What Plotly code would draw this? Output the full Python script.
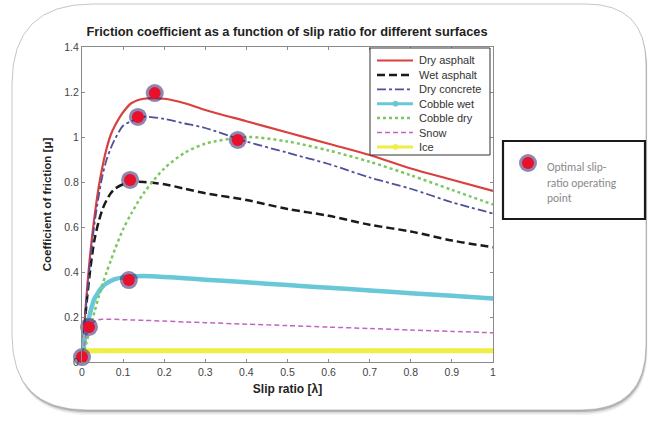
import plotly.graph_objects as go

slip = [0, 0.01, 0.02, 0.03, 0.04, 0.05, 0.06, 0.07, 0.08, 0.1, 0.12, 0.15, 0.2, 0.25, 0.3,
        0.4, 0.5, 0.6, 0.7, 0.8, 0.9, 1.0]

dry_asphalt = [0, 0.27, 0.48, 0.64, 0.77, 0.87, 0.95, 1.01, 1.05, 1.11, 1.15, 1.17, 1.17, 1.15, 1.12,
               1.07, 1.02, 0.97, 0.92, 0.86, 0.81, 0.76]
wet_asphalt = [0, 0.24, 0.41, 0.54, 0.62, 0.68, 0.72, 0.75, 0.77, 0.79, 0.80, 0.80, 0.79, 0.77, 0.75,
               0.72, 0.68, 0.65, 0.61, 0.58, 0.54, 0.51]
dry_concrete = [0, 0.25, 0.45, 0.61, 0.73, 0.83, 0.90, 0.95, 0.99, 1.05, 1.07, 1.09, 1.08, 1.06, 1.04,
                0.98, 0.93, 0.88, 0.82, 0.77, 0.71, 0.66]
cobble_wet = [0, 0.14, 0.22, 0.28, 0.31, 0.335, 0.35, 0.36, 0.368, 0.376, 0.38, 0.382, 0.378, 0.372, 0.366,
              0.354, 0.342, 0.330, 0.318, 0.306, 0.294, 0.282]
cobble_dry = [0, 0.08, 0.15, 0.22, 0.285, 0.345, 0.40, 0.45, 0.50, 0.59, 0.66, 0.75, 0.86, 0.93, 0.97,
              1.0, 0.98, 0.94, 0.89, 0.83, 0.765, 0.70]
snow = [0, 0.12, 0.165, 0.18, 0.188, 0.19, 0.19, 0.19, 0.19, 0.188, 0.187, 0.185, 0.182, 0.178, 0.175,
        0.168, 0.162, 0.155, 0.149, 0.142, 0.136, 0.13]
ice = [0, 0.048, 0.05, 0.05, 0.05, 0.05, 0.05, 0.05, 0.05, 0.05, 0.05, 0.05, 0.05, 0.05, 0.05,
       0.05, 0.05, 0.05, 0.05, 0.05, 0.05, 0.05]

opt_x = [0.0, 0.017, 0.114, 0.117, 0.136, 0.177, 0.379]
opt_y = [0.022, 0.156, 0.364, 0.809, 1.089, 1.195, 0.987]

x_ticks = [0, 0.1, 0.2, 0.3, 0.4, 0.5, 0.6, 0.7, 0.8, 0.9, 1]
x_tick_text = ["0", "0.1", "0.2", "0.3", "0.4", "0.5", "0.6", "0.7", "0.8", "0.9", "1"]
y_ticks = [0, 0.2, 0.4, 0.6, 0.8, 1.0, 1.2, 1.4]
y_tick_text = ["0", "0.2", "0.4", "0.6", "0.8", "1", "1.2", "1.4"]

series_names = ["Dry asphalt", "Wet asphalt", "Dry concrete", "Cobble wet", "Cobble dry", "Snow", "Ice"]
series_values = [dry_asphalt, wet_asphalt, dry_concrete, cobble_wet, cobble_dry, snow, ice]
series_colors = ["#d9403e", "#1a1a1a", "#50509a", "#68c8d8", "#7cc860", "#c065c0", "#eeee44"]
series_dash = ["solid", "8px,4px", "dashdot", "solid", "dot", "5px,3px", "solid"]
series_width = [2.2, 2.5, 1.8, 4.5, 2.5, 1.5, 5]
series_markers = [False, False, False, True, False, False, True]

FONT = "Liberation Sans, Arial, sans-serif"
GLOW = "rgba(55,35,110,0.55)"
RED = "#e8102a"

fig = go.Figure()
for name, vals, col, dash, w, mk in zip(series_names, series_values, series_colors,
                                        series_dash, series_width, series_markers):
    fig.add_trace(go.Scatter(
        x=slip, y=vals, name=name, showlegend=False,
        mode="lines+markers" if mk else "lines",
        line=dict(color=col, dash=dash, width=w, shape="spline", smoothing=0.8),
        marker=dict(size=4, color=col) if mk else None,
    ))

# optimal points: glow + red core
fig.add_trace(go.Scatter(
    x=opt_x, y=opt_y, mode="markers", showlegend=False, cliponaxis=False,
    marker=dict(size=18, color=GLOW, line=dict(width=0)),
    hoverinfo="skip"))
fig.add_trace(go.Scatter(
    x=opt_x, y=opt_y, mode="markers", showlegend=False, cliponaxis=False,
    marker=dict(size=12, color=RED, line=dict(width=0)),
    name="Optimal slip-ratio operating point"))

# plot area in screen pixels
L, R, T, B = 82, 493, 47, 362


def px(x):
    return x - L


def py(y):
    return B - y


def pshape(**kw):
    d = dict(xref="paper", yref="paper", xsizemode="pixel", ysizemode="pixel", xanchor=0, yanchor=0)
    d.update(kw)
    return d


def rounded_path(x0, y0, x1, y1, rtl, rtr, rbr, rbl):
    X0, X1 = px(x0), px(x1)
    Y0, Y1 = py(y0), py(y1)
    p = f"M {X0+rtl},{Y0} L {X1-rtr},{Y0} Q {X1},{Y0} {X1},{Y0-rtr} "
    p += f"L {X1},{Y1+rbr} Q {X1},{Y1} {X1-rbr},{Y1} "
    p += f"L {X0+rbl},{Y1} Q {X0},{Y1} {X0},{Y1+rbl} "
    p += f"L {X0},{Y0-rtl} Q {X0},{Y0} {X0+rtl},{Y0} Z"
    return p


shapes = []
for off, col in [(5, "rgba(0,0,0,0.05)"), (3.5, "rgba(0,0,0,0.09)"), (2, "rgba(0,0,0,0.18)")]:
    shapes.append(pshape(type="path", layer="below",
                         path=rounded_path(12 + off * 0.4, 4 + off, 646 + off * 0.3, 410 + off, 80, 60, 65, 75),
                         line=dict(width=0), fillcolor=col))
shapes.append(pshape(type="path", layer="below",
                     path=rounded_path(12, 4, 646, 410, 80, 60, 65, 75),
                     line=dict(width=0.8, color="rgba(150,150,150,0.7)"), fillcolor="white"))

# legend (drawn manually to match the compact row spacing)
LG_X0, LG_X1, LG_Y0, LG_Y1 = 370, 490, 48, 155
shapes.append(pshape(type="rect", x0=px(LG_X0), x1=px(LG_X1), y0=py(LG_Y0), y1=py(LG_Y1),
                     line=dict(width=1, color="#333333"), fillcolor="white"))
annotations = []
row0, row_gap = 60.5, 14.4
for i, (name, col, dash, w, mk) in enumerate(zip(series_names, series_colors, series_dash,
                                                  series_width, series_markers)):
    yy = row0 + i * row_gap
    shapes.append(pshape(type="line", x0=px(377), x1=px(413), y0=py(yy), y1=py(yy),
                         line=dict(color=col, width=min(w, 3), dash=dash)))
    if mk:
        shapes.append(pshape(type="circle", x0=px(393), x1=px(398), y0=py(yy - 2.5), y1=py(yy + 2.5),
                             line=dict(width=1, color=col), fillcolor=col))
    annotations.append(dict(xref="paper", yref="paper", x=(417 - L) / (R - L), y=(B - yy) / (B - T),
                            xanchor="left", yanchor="middle", showarrow=False, text=name,
                            font=dict(family=FONT, size=11, color="#333333")))

# side annotation box
shapes.append(pshape(type="rect", x0=px(503), x1=px(645), y0=py(141), y1=py(219),
                     line=dict(width=2.2, color="#1a1a1a"), fillcolor="white"))
shapes.append(pshape(type="circle", x0=px(519), x1=px(537), y0=py(154), y1=py(172),
                     line=dict(width=0), fillcolor=GLOW))
shapes.append(pshape(type="circle", x0=px(522), x1=px(534), y0=py(157), y1=py(169),
                     line=dict(width=0), fillcolor=RED))
for j, line_txt in enumerate(["Optimal slip-", "ratio operating", "point"]):
    annotations.append(dict(
        xref="paper", yref="paper", x=(545 - L) / (R - L), y=(B - (167 + j * 15.5)) / (B - T),
        xanchor="left", yanchor="middle", align="left", showarrow=False,
        text=line_txt,
        font=dict(family="Carlito, Open Sans, sans-serif", size=11.5, color="#8a8a8a")))

fig.update_layout(
    width=650, height=421,
    margin=dict(l=L, r=650 - R, t=T, b=421 - B),
    paper_bgcolor="white", plot_bgcolor="white",
    font=dict(family=FONT, size=11, color="#333333"),
    title=dict(text="<b>Friction coefficient as a function of slip ratio for different surfaces</b>",
               x=287 / 650, xanchor="center", y=1 - 32 / 421, yanchor="middle",
               font=dict(size=12.8, color="#222222")),
    showlegend=False,
    shapes=shapes, annotations=annotations,
)
fig.update_xaxes(range=[0, 1], tickvals=x_ticks, ticktext=x_tick_text,
                 showgrid=False, zeroline=False, showline=True, linecolor="#8a8a8a", linewidth=1,
                 mirror="ticks", ticks="inside", ticklen=3, tickcolor="#8a8a8a",
                 tickfont=dict(size=10.5, color="#444444"),
                 title=dict(text="<b>Slip ratio [λ]</b>", font=dict(size=12, color="#222222"), standoff=8))
fig.update_yaxes(range=[0, 1.4], tickvals=y_ticks, ticktext=y_tick_text,
                 showgrid=False, zeroline=False, showline=True, linecolor="#8a8a8a", linewidth=1,
                 mirror="ticks", ticks="inside", ticklen=3, tickcolor="#8a8a8a",
                 tickfont=dict(size=10.5, color="#444444"),
                 title=dict(text="<b>Coefficient of friction [μ]</b>", font=dict(size=11.5, color="#222222"), standoff=10))

fig.write_html("out.html", config={"displayModeBar": False},
               post_script="document.body.style.margin='0';document.body.style.overflow='hidden';")
